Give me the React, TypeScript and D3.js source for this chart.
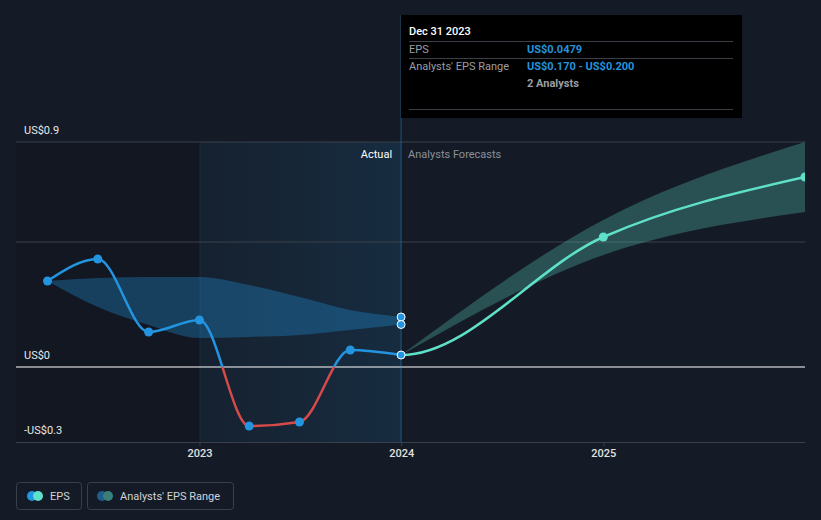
import React from "react";
import * as d3 from "d3";

const W = 821;
const H = 520;

const actualDates = ["2022-03-31", "2022-06-30", "2022-09-30", "2022-12-31", "2023-03-31", "2023-06-30", "2023-09-30", "2023-12-31"];
const actualEPS = [0.344, 0.432, 0.14, 0.188, -0.236, -0.22, 0.068, 0.0479];

const pastRangeDates = ["2022-03-31", "2022-06-30", "2022-09-30", "2022-12-31", "2023-03-31", "2023-06-30", "2023-09-30", "2023-12-31"];
const pastRangeLow = [0.344, 0.24, 0.168, 0.116, 0.12, 0.128, 0.148, 0.17];
const pastRangeHigh = [0.344, 0.356, 0.36, 0.36, 0.328, 0.28, 0.228, 0.2];

const forecastDates = ["2023-12-31", "2024-12-31", "2025-12-31"];
const forecastEPS = [0.0479, 0.52, 0.76];
const forecastLow = [0.0479, 0.448, 0.62];
const forecastHigh = [0.0479, 0.588, 0.9];

const yTicks = [-0.3, 0, 0.9];
const yTickLabels = ["-US$0.3", "US$0", "US$0.9"];
const yGrid = [0.5, 0.9];
const xTickDates = ["2023-01-01", "2024-01-01", "2025-01-01"];
const xTickLabels = ["2023", "2024", "2025"];

const pd = (s: string) => new Date(s + "T00:00:00");

const BLUE = "#2394df";
const RED = "#d64a4a";
const MINT = "#5fe0c9";
const BG = "#151b26";

export default function App() {
  React.useEffect(() => {
    document.body.style.margin = "0";
    document.body.style.background = BG;
  }, []);
  const left = 16, right = 805, top = 142, bottom = 442;
  const x = d3.scaleTime().domain([pd("2022-02-02"), pd("2025-12-31")]).range([left, right]);
  const y = d3.scaleLinear().domain([-0.3, 0.9]).range([bottom, top]);

  const actual = actualDates.map((d, i) => ({ x: x(pd(d)), y: y(actualEPS[i]) }));
  const lineGen = d3.line<{ x: number; y: number }>().x(d => d.x).y(d => d.y).curve(d3.curveMonotoneX);
  const actualPath = lineGen(actual) || "";

  const fc = [actual[actual.length - 2], ...forecastDates.map((d, i) => ({ x: x(pd(d)), y: y(forecastEPS[i]) }))];
  const fcPath = lineGen(fc) || "";
  const fcPts = forecastDates.map((d, i) => ({ x: x(pd(d)), y: y(forecastEPS[i]) }));

  const areaGen = d3.area<{ x: number; lo: number; hi: number }>()
    .x(d => d.x).y0(d => d.lo).y1(d => d.hi).curve(d3.curveMonotoneX);
  const pastArea = areaGen(pastRangeDates.map((d, i) => ({ x: x(pd(d)), lo: y(pastRangeLow[i]), hi: y(pastRangeHigh[i]) }))) || "";
  const fcArea = areaGen(forecastDates.map((d, i) => ({ x: x(pd(d)), lo: y(forecastLow[i]), hi: y(forecastHigh[i]) }))) || "";

  const y0 = y(0);
  const xNow = x(pd("2023-12-31"));
  const xPastStart = x(pd("2023-01-01"));
  const font = "Roboto, 'Open Sans', sans-serif";

  return (
    <div style={{ position: "absolute", left: 0, top: 0, width: W, height: H, background: BG }}>
      <svg width={W} height={H} style={{ display: "block", fontFamily: font }}>
        <defs>
          <linearGradient id="actGrad" x1="0" x2="1" y1="0" y2="0">
            <stop offset="0%" stopColor={BLUE} stopOpacity={0.05} />
            <stop offset="100%" stopColor={BLUE} stopOpacity={0.14} />
          </linearGradient>
          <clipPath id="above"><rect x={0} y={0} width={W} height={y0} /></clipPath>
          <clipPath id="below"><rect x={0} y={y0} width={W} height={H - y0} /></clipPath>
          <clipPath id="future"><rect x={xNow} y={0} width={right - xNow} height={H} /></clipPath>
          <clipPath id="plot"><rect x={left} y={0} width={right - left} height={H} /></clipPath>
        </defs>
        <rect x={0} y={0} width={W} height={H} fill={BG} />
        <rect x={left} y={top} width={xPastStart - left} height={bottom - top} fill="#000" opacity={0.12} />
        <rect x={xPastStart} y={top} width={xNow - xPastStart} height={bottom - top} fill="url(#actGrad)" />
        <line x1={xPastStart} x2={xPastStart} y1={top} y2={bottom} stroke={BLUE} strokeOpacity={0.15} />

        {yGrid.map(v => (
          <line key={v} x1={left} x2={right} y1={y(v)} y2={y(v)} stroke="#3a404b" strokeWidth={1} />
        ))}
        <line x1={left} x2={right} y1={bottom + 0.5} y2={bottom + 0.5} stroke="#3a404b" />
        {xTickDates.map(d => (
          <line key={d} x1={x(pd(d))} x2={x(pd(d))} y1={bottom} y2={bottom + 4} stroke="#3a404b" />
        ))}

        <path d={pastArea} fill={BLUE} opacity={0.32} />
        <path d={fcArea} fill={MINT} opacity={0.28} clipPath="url(#plot)" />

        <line x1={left} x2={right} y1={y0} y2={y0} stroke="#ffffff" strokeWidth={1.2} />

        <line x1={xNow} x2={xNow} y1={15} y2={bottom} stroke={BLUE} strokeOpacity={0.3} strokeWidth={1.5} />

        <path d={actualPath} fill="none" stroke={BLUE} strokeWidth={2.5} clipPath="url(#above)" />
        <path d={actualPath} fill="none" stroke={RED} strokeWidth={2.5} clipPath="url(#below)" />
        <path d={fcPath} fill="none" stroke={MINT} strokeWidth={2.5} clipPath="url(#future)" />

        {actual.slice(0, -1).map((p, i) => (
          <circle key={i} cx={p.x} cy={p.y} r={4.5} fill={BLUE} />
        ))}
        <g clipPath="url(#plot)">
          {fcPts.slice(1).map((p, i) => (
            <circle key={i} cx={p.x} cy={p.y} r={4.5} fill={MINT} />
          ))}
        </g>
        <circle cx={xNow} cy={y(pastRangeHigh[pastRangeHigh.length - 1])} r={4} fill={BLUE} stroke="#fff" strokeWidth={1} />
        <circle cx={xNow} cy={y(pastRangeLow[pastRangeLow.length - 1])} r={4} fill={BLUE} stroke="#fff" strokeWidth={1} />
        <circle cx={xNow} cy={y(actualEPS[actualEPS.length - 1])} r={4} fill={BLUE} stroke="#fff" strokeWidth={1} />

        {yTicks.map((v, i) => (
          <text key={v} x={24} y={y(v) - 8} fill="#e8e8e8" fontSize={11}>{yTickLabels[i]}</text>
        ))}
        {xTickDates.map((d, i) => (
          <text key={d} x={x(pd(d))} y={bottom + 15} fill="#e0e0e0" fontSize={11} textAnchor="middle" fontWeight={500}>{xTickLabels[i]}</text>
        ))}

        <text x={xNow - 9} y={158} fill="#ffffff" fontSize={11} textAnchor="end">Actual</text>
        <text x={xNow + 7} y={158} fill="#8b9099" fontSize={11}>Analysts Forecasts</text>

        <rect x={401} y={15} width={341} height={103} fill="#000" />
        <text x={409} y={35} fill="#fff" fontSize={11} fontWeight={500}>Dec 31 2023</text>
        <line x1={409} x2={733} y1={41.5} y2={41.5} stroke="#3b3f46" />
        <text x={409} y={53} fill="#9a9ea5" fontSize={11}>EPS</text>
        <text x={527} y={53} fill={BLUE} fontSize={11} fontWeight={700}>US$0.0479</text>
        <line x1={409} x2={733} y1={58.5} y2={58.5} stroke="#3b3f46" />
        <text x={409} y={70} fill="#9a9ea5" fontSize={11}>Analysts' EPS Range</text>
        <text x={527} y={70} fill={BLUE} fontSize={11} fontWeight={700}>US$0.170 - US$0.200</text>
        <text x={527} y={87} fill="#9a9ea5" fontSize={11} fontWeight={700}>2 Analysts</text>
        <line x1={409} x2={733} y1={109.5} y2={109.5} stroke="#3b3f46" />

        <rect x={16.5} y={482.5} width={65} height={27} rx={3} fill="none" stroke="#3a404b" />
        <circle cx={32} cy={496} r={5} fill={BLUE} />
        <circle cx={38} cy={496} r={5} fill={MINT} />
        <text x={50} y={500} fill="#d0d3d8" fontSize={11}>EPS</text>
        <rect x={87.5} y={482.5} width={146} height={27} rx={3} fill="none" stroke="#3a404b" />
        <circle cx={102} cy={496} r={5} fill="#1f5d8c" />
        <circle cx={108} cy={496} r={5} fill="#3a8078" />
        <text x={120} y={500} fill="#d0d3d8" fontSize={11}>Analysts' EPS Range</text>
      </svg>
    </div>
  );
}
